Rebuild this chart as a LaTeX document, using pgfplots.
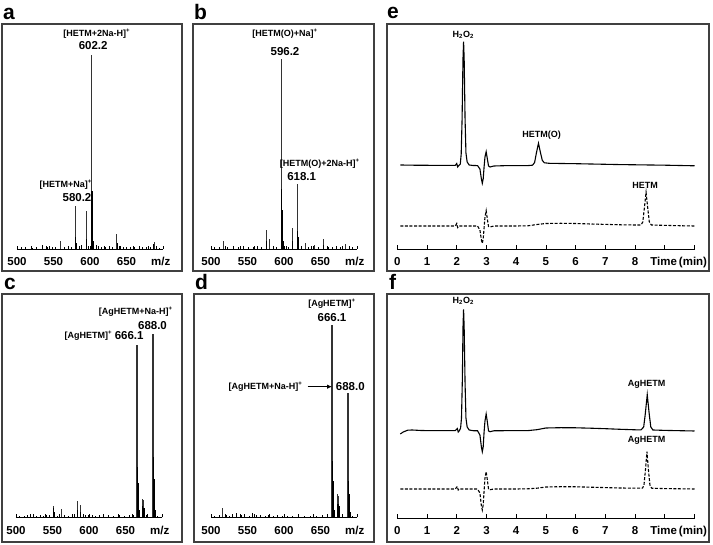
\documentclass[border=0pt]{standalone}
\usepackage{pgfplots}
\pgfplotsset{compat=1.18}
\usepackage{fontspec}
\setmainfont{Liberation Sans}
\usetikzlibrary{arrows.meta}

\newcommand\ticfont{\fontsize{11.5}{13}\selectfont\bfseries}
\newcommand\annfont{\fontsize{9}{10}\selectfont\bfseries}
\newcommand\valfont{\fontsize{11.5}{13}\selectfont\bfseries}
\newcommand\letfont{\fontsize{21}{24}\selectfont\bfseries}

\pgfplotsset{
  panel/.style={scale only axis, anchor=south west, enlargelimits=false, clip=false,
    axis x line=bottom, axis y line=none,
    axis line style={-, line width=0.9pt, black},
    tick align=inside, tick style={line width=0.8pt, black},
    xticklabel style={font=\ticfont, yshift=-5pt}},
  ms/.style={panel, width=146pt, height=213.4pt, xmin=500, xmax=700, ymin=0, ymax=110,
    xtick={500,520,...,700}, xticklabels={}, major tick length=3pt,
    extra x ticks={500,550,600,650,697}, extra x tick labels={500,550,600,650,m/z},
    extra x tick style={major tick length=0pt}},
  lc/.style={panel, width=297.2pt, height=220pt, xmin=0, xmax=10, ymin=0, ymax=220,
    xtick={0,...,10}, xticklabels={0,1,2,3,4,5,6,7,8,{},{}}, major tick length=4pt,
    extra x ticks={9.47}, extra x tick labels={Time\,(min)},
    extra x tick style={major tick length=0pt}},
  peak/.style={ycomb, line width=0.85pt, black!80, mark=none},
  bigpeak/.style={ycomb, line width=1.7pt, black!80, mark=none},
  iso/.style={ycomb, line width=1.3pt, black, mark=none},
  noise/.style={ycomb, line width=0.6pt, black, mark=none},
  trace/.style={line width=1.1pt, black, mark=none},
  dtrace/.style={line width=1.1pt, black, mark=none, dash pattern=on 3pt off 1.6pt},
}

\begin{document}
\begin{tikzpicture}
\path (0pt,0pt) rectangle (713pt,545pt);

% panel frames
\begin{scope}[x=1pt, y=1pt, draw=black!75, line width=1.3pt]
\draw (2,274) rectangle (182,521);
\draw (193,274) rectangle (374,521);
\draw (387,274) rectangle (709,521);
\draw (2,3) rectangle (182,251);
\draw (194,3) rectangle (374,251);
\draw (387,3) rectangle (709,251);
\end{scope}

% ---------- a: HETM mass spectrum ----------
\begin{axis}[ms, at={(17pt,296pt)}]
\addplot[noise] coordinates {(506,0.8) (512,1) (521,0.6) (527,1.2) (535,1.8) (541,1) (544,1.6)
  (549,0.8) (553,1.2) (565,1) (570,1.4) (575,1.2) (585,1.5) (588,2.2) (598,1.6) (608,2)
  (611,1.4) (616,1.2) (621,1) (626,1.5) (631,0.8) (641,1.6) (645,1) (650,0.8) (655,1.1)
  (661,1) (667,1.5) (672,1) (677,1.2) (682,1) (691,1.3) (695,0.7)};
\addplot[peak] coordinates {(558.9,4.1) (580.2,22.2) (594.5,19.6) (602.2,100) (636.6,7.7) (687.7,3.6)};
\addplot[iso] coordinates {(580.6,6) (581.2,3) (594.9,5) (595.5,2.5) (602.6,30) (603.2,20)
  (603.8,9) (604.5,4) (637.2,3) (687.0,2.5)};
\end{axis}

% ---------- b: HETM(O) mass spectrum ----------
\begin{axis}[ms, at={(211pt,296pt)}]
\addplot[noise] coordinates {(505,0.8) (511,1.2) (523,1) (530,1.5) (537,1) (544,1.4) (551,1)
  (558,1.2) (563,1.6) (569,1) (585,1.5) (589,1.2) (603,1.6) (606,1.2) (624,1.3) (633,1)
  (637,1.4) (647,1) (660,1.2) (666,1) (672,1.4) (677,1) (689,1.3) (694,0.8)};
\addplot[peak] coordinates {(516.4,4.2) (575.3,10) (579.9,5) (596.2,98) (611.4,11) (618.1,33.5)
  (628.8,3) (642,2.2) (653.8,5) (683.6,2.5)};
\addplot[iso] coordinates {(596.6,31) (597.2,20) (597.8,11) (598.5,4) (611.8,4) (618.5,9.5)
  (619.1,6) (619.7,3) (575.8,4) (654.3,2)};
\end{axis}

% ---------- c: AgHETM mass spectrum ----------
\begin{axis}[ms, at={(16pt,27.5pt)}]
\addplot[noise] coordinates {(505,0.8) (511,1) (516,1.5) (520,1.2) (524,1.8) (528,1) (533,1.4)
  (537,1) (541,1.2) (545,1.5) (557,1) (566,1.2) (571,1) (577,1.6) (592,2) (595,1.4) (599,1.2)
  (604,1.5) (609,1) (614,1.3) (619,1) (626,1.2) (633,1) (641,1.4) (648,1) (655,1.2) (661,1.5)
  (679,1.2) (694,1)};
\addplot[peak] coordinates {(551.1,6) (561.6,4.2) (583.6,8.5) (587.7,6.5) (673.3,9.5) (675.0,9)};
\addplot[bigpeak] coordinates {(666.1,89) (688.0,94.5)};
\addplot[iso] coordinates {(551.5,5) (552,3) (584.1,4) (588.2,3) (666.5,26) (667.1,18)
  (667.7,10) (668.4,4) (688.4,31) (689.0,20) (689.6,9) (690.4,4) (673.7,6) (675.4,5)};
\end{axis}

% ---------- d: AgHETM mass spectrum ----------
\begin{axis}[ms, at={(211pt,27.5pt)}]
\addplot[noise] coordinates {(505,0.8) (511,1.2) (521,1.5) (525,1) (529,1.6) (535,2.5) (541,1.2)
  (546,1.8) (552,1) (557,2.2) (562,1.2) (568,1.5) (574,1) (579,1.3) (586,1) (591,1.2) (598,0.8)
  (604,1) (612,0.8) (620,1) (628,0.8) (636,1) (644,0.8) (652,1.2) (659,1.5) (680,1) (694,0.8)};
\addplot[peak] coordinates {(516,5) (673.5,12) (675,11)};
\addplot[bigpeak] coordinates {(666.1,99) (688,64)};
\addplot[iso] coordinates {(666.5,29) (667.1,19) (667.7,10) (668.4,4) (688.4,19) (689,12)
  (689.6,6) (690.3,3) (673.9,7) (675.4,6)};
\end{axis}

% ---------- e: HPLC, oxidation of HETM ----------
\begin{axis}[lc, at={(397.3pt,296pt)}]
\addplot[trace] coordinates {(0.10,84.0) (0.5,83.8) (1.0,83.7) (1.5,83.6) (1.95,83.6) (2.00,85.5)
  (2.03,82.0) (2.07,83.5) (2.12,85) (2.15,95) (2.18,130) (2.21,190) (2.23,207.3) (2.25,190)
  (2.28,130) (2.31,96) (2.35,87) (2.42,84) (2.55,83.5) (2.70,83.4) (2.78,80) (2.83,70)
  (2.86,65.7) (2.89,70) (2.92,82) (2.95,92) (2.99,97.3) (3.03,90) (3.07,83) (3.12,82)
  (3.25,83) (3.6,83.3) (4.0,83.3) (4.4,83.4) (4.55,83.8) (4.62,86.5) (4.68,96) (4.75,105.7)
  (4.82,96) (4.88,88.5) (4.95,86.2) (5.1,85.7) (5.5,85.5) (6.0,85.3) (6.5,85.0) (7.0,84.7)
  (7.5,84.4) (8.0,84.2) (8.5,84.0) (9.0,83.8) (9.5,83.5) (10.0,83.2)};
\addplot[dtrace] coordinates {(0.10,23.0) (0.5,23) (1.0,23) (1.5,23) (1.95,23) (2.0,25.5)
  (2.03,21.5) (2.07,23) (2.2,23) (2.5,23) (2.70,23) (2.78,19) (2.83,9) (2.86,5.7) (2.89,10)
  (2.92,21) (2.95,32) (2.99,38.3) (3.03,30) (3.07,22.5) (3.12,22) (3.25,23) (3.6,23) (4.0,23)
  (4.4,23.2) (4.7,24.5) (5.0,25.5) (5.5,25.7) (6.0,25.5) (6.5,25.0) (7.0,24.6) (7.5,24.2)
  (8.0,24) (8.2,24) (8.26,27) (8.31,40) (8.37,56.7) (8.43,40) (8.48,27) (8.55,24) (8.8,23.8)
  (9.2,23.5) (9.6,23.2) (10.0,23)};
\end{axis}

% ---------- f: HPLC, AgHETM ----------
\begin{axis}[lc, at={(397.3pt,27pt)}]
\addplot[trace] coordinates {(0.10,84) (0.2,86) (0.35,87.8) (0.5,88) (0.8,87.5) (1.2,87.3)
  (1.6,87.3) (1.95,87.3) (2.02,89.5) (2.05,86) (2.09,87.3) (2.13,90) (2.16,100) (2.19,140)
  (2.21,190) (2.23,208.7) (2.25,190) (2.28,135) (2.31,100) (2.35,91) (2.42,88) (2.55,87.3)
  (2.70,87.2) (2.78,83) (2.83,71) (2.86,66.3) (2.89,71) (2.92,86) (2.95,97) (2.99,104)
  (3.03,96) (3.07,87) (3.12,86.3) (3.25,87.2) (3.6,87.3) (4.0,87.3) (4.4,87.4) (4.7,88.3)
  (5.0,90) (5.5,90.3) (6.0,90.2) (6.5,89.8) (7.0,89.3) (7.5,88.7) (8.0,88.2) (8.2,88.1)
  (8.29,91) (8.34,103) (8.41,123.3) (8.48,103) (8.53,91) (8.6,88) (9.0,87.6) (9.5,87.3)
  (10.0,87)};
\addplot[dtrace] coordinates {(0.10,29) (0.5,29) (1.0,29) (1.5,29) (1.95,29) (2.02,31.5)
  (2.05,28) (2.09,29) (2.3,29) (2.5,29) (2.70,29) (2.78,25) (2.83,12) (2.86,8) (2.89,13)
  (2.92,27) (2.95,40) (2.99,46.3) (3.03,38) (3.07,29) (3.12,28.3) (3.25,29) (3.6,29) (4.0,29)
  (4.4,29.2) (4.7,29.8) (5.0,31) (5.5,31.3) (6.0,31.2) (6.5,30.8) (7.0,30.4) (7.5,30)
  (8.0,29.8) (8.25,29.8) (8.30,33) (8.35,48) (8.40,66.3) (8.45,48) (8.50,33) (8.56,29.8)
  (9.0,29.4) (9.5,29.2) (10.0,29)};
\end{axis}

% labels and annotations
\begin{scope}[x=1pt, y=1pt]
\node[font=\letfont, anchor=base west, inner sep=0] at (3,525) {a};
\node[font=\letfont, anchor=base west, inner sep=0] at (194,525) {b};
\node[font=\letfont, anchor=base west, inner sep=0] at (387,526) {e};
\node[font=\letfont, anchor=base west, inner sep=0] at (4,255) {c};
\node[font=\letfont, anchor=base west, inner sep=0] at (195,255) {d};
\node[font=\letfont, anchor=base west, inner sep=0] at (389,255) {f};

\node[font=\annfont] at (96.7,511.7) {[HETM+2Na-H]\textsuperscript{+}};
\node[font=\valfont] at (93.2,499) {602.2};
\node[font=\annfont] at (65.8,360.7) {[HETM+Na]\textsuperscript{+}};
\node[font=\valfont] at (77,347.3) {580.2};

\node[font=\annfont] at (285,511.7) {[HETM(O)+Na]\textsuperscript{+}};
\node[font=\valfont] at (285,493.3) {596.2};
\node[font=\annfont] at (319.7,381.7) {[HETM(O)+2Na-H]\textsuperscript{+}};
\node[font=\valfont] at (301.7,368.3) {618.1};

\node[font=\annfont] at (135.8,233.3) {[AgHETM+Na-H]\textsuperscript{+}};
\node[font=\valfont] at (152.5,219) {688.0};
\node[font=\annfont] at (88.3,209.3) {[AgHETM]\textsuperscript{+}};
\node[font=\valfont] at (129.2,209.3) {666.1};

\node[font=\annfont] at (332,241.7) {[AgHETM]\textsuperscript{+}};
\node[font=\valfont] at (332,227.3) {666.1};
\node[font=\annfont] at (265.5,158.3) {[AgHETM+Na-H]\textsuperscript{+}};
\draw[line width=0.9pt, -{Latex[length=5pt,width=4.5pt]}] (307.5,158.3) -- (332,158.3);
\node[font=\valfont] at (350.3,158.3) {688.0};

\node[font=\annfont] at (463.3,510) {H\textsubscript{2}O\textsubscript{2}};
\node[font=\annfont] at (541.7,410) {HETM(O)};
\node[font=\annfont] at (645,360) {HETM};

\node[font=\annfont] at (463.3,244.3) {H\textsubscript{2}O\textsubscript{2}};
\node[font=\annfont] at (646.7,161) {AgHETM};
\node[font=\annfont] at (646.7,104.3) {AgHETM};
\end{scope}
\end{tikzpicture}
\end{document}
